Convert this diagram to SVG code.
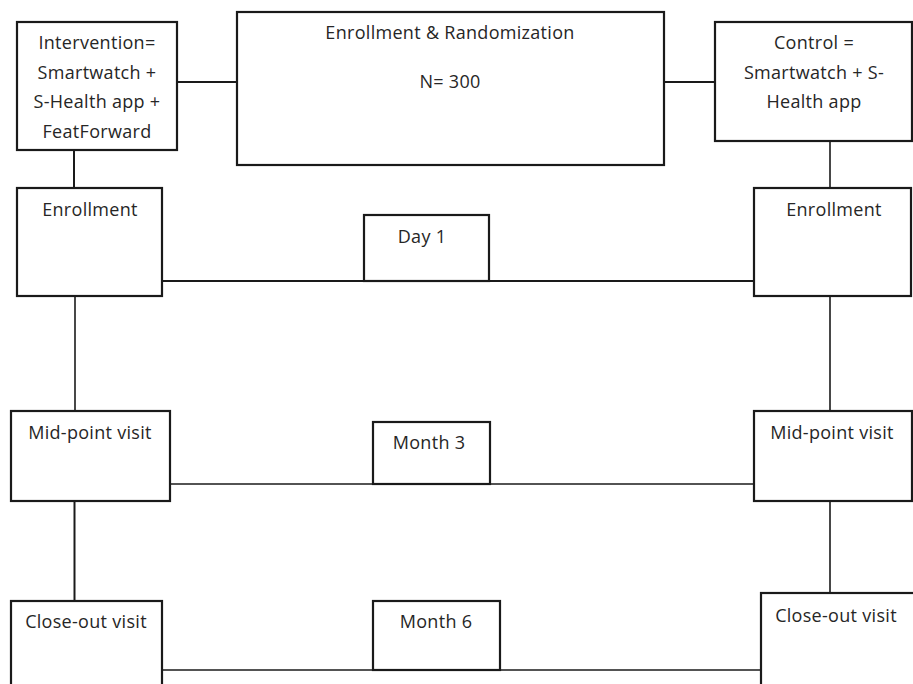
<svg xmlns="http://www.w3.org/2000/svg" width="913" height="684" viewBox="0 0 913 684">
<style>
.box{fill:#fff;stroke:#1a1a1a;stroke-width:2.2}
.ln{stroke:#1a1a1a;stroke-width:2;fill:none}
.thin{stroke:#1a1a1a;stroke-width:1.6;fill:none}
text{font-family:"Open Sans","Noto Sans","DejaVu Sans",sans-serif;font-size:18px;letter-spacing:0.3px;fill:#262626;text-anchor:middle}
</style>
<rect width="913" height="684" fill="#fff"/>
<g id="connectors">
<line class="ln" x1="177" y1="82" x2="237" y2="82"/>
<line class="ln" x1="664" y1="82" x2="715" y2="82"/>
<line class="ln" x1="74" y1="150" x2="74" y2="188"/>
<line class="thin" x1="830" y1="141" x2="830" y2="188"/>
<line class="ln" x1="162" y1="281" x2="755" y2="281"/>
<line class="thin" x1="75" y1="296" x2="75" y2="411"/>
<line class="thin" x1="830" y1="296" x2="830" y2="411"/>
<line class="thin" x1="170" y1="484" x2="755" y2="484"/>
<line class="ln" x1="74.5" y1="501" x2="74.5" y2="601"/>
<line class="thin" x1="830" y1="501" x2="830" y2="593"/>
<line class="thin" x1="162" y1="670" x2="762" y2="670"/>
</g>
<g id="intervention">
<rect class="box" x="17" y="22" width="160" height="128"/>
<text x="97" y="49">Intervention=</text>
<text x="97" y="79">Smartwatch +</text>
<text x="97" y="108">S-Health app +</text>
<text x="97" y="138">FeatForward</text>
</g>
<g id="enrollment-randomization">
<rect class="box" x="237" y="12" width="427" height="153"/>
<text x="450" y="39">Enrollment &amp; Randomization</text>
<text x="450" y="88">N= 300</text>
</g>
<g id="control">
<rect class="box" x="715" y="22" width="197" height="119"/>
<text x="814" y="49">Control =</text>
<text x="814" y="79">Smartwatch + S-</text>
<text x="814" y="108">Health app</text>
</g>
<g id="enrollment-left">
<rect class="box" x="17" y="188" width="145" height="108"/>
<text x="90" y="216">Enrollment</text>
</g>
<g id="enrollment-right">
<rect class="box" x="754" y="188" width="157" height="108"/>
<text x="834" y="216">Enrollment</text>
</g>
<g id="day1">
<rect class="box" x="364" y="215" width="125" height="66"/>
<text x="422" y="243">Day 1</text>
</g>
<g id="midpoint-left">
<rect class="box" x="11" y="411" width="159" height="90"/>
<text x="90" y="439">Mid-point visit</text>
</g>
<g id="month3">
<rect class="box" x="373" y="422" width="117" height="62"/>
<text x="429" y="449">Month 3</text>
</g>
<g id="midpoint-right">
<rect class="box" x="754" y="411" width="158" height="90"/>
<text x="832" y="439">Mid-point visit</text>
</g>
<g id="closeout-left">
<rect class="box" x="11" y="601" width="151" height="100"/>
<text x="86" y="628">Close-out visit</text>
</g>
<g id="month6">
<rect class="box" x="373" y="601" width="127" height="69"/>
<text x="436" y="628">Month 6</text>
</g>
<g id="closeout-right">
<rect class="box" x="761" y="593" width="160" height="100"/>
<text x="836" y="622">Close-out visit</text>
</g>
</svg>
